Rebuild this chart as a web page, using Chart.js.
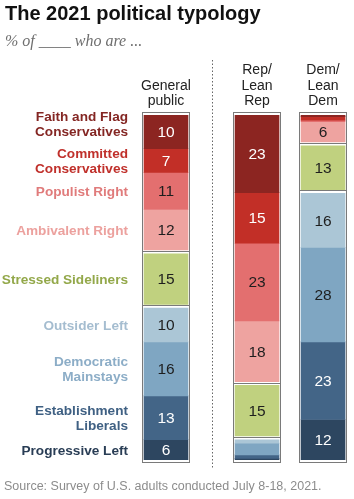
<!DOCTYPE html>
<html>
<head>
<meta charset="utf-8">
<script src="https://cdn.jsdelivr.net/npm/chart.js@4.4.1/dist/chart.umd.min.js"></script>
<style>
  html, body { margin: 0; padding: 0; background: #fff; }
  #wrap { position: relative; width: 354px; height: 499px; overflow: hidden; }
  #c { position: absolute; left: 0; top: 0; }
  .t { position: absolute; white-space: nowrap; }
  #title { left: 5px; top: 3px; font: bold 20px "Liberation Sans", Arial, sans-serif; line-height: 20px; color: #111; }
  #sub { left: 5px; top: 33px; font: italic 16px "Liberation Serif", serif; line-height: 16px; color: #6e6e6e; }
  #src { left: 4px; top: 479px; font: 12.5px "Liberation Sans", Arial, sans-serif; line-height: 14px; color: #8c8c8c; }
</style>
</head>
<body>
<div id="wrap">
  <canvas id="c" width="354" height="499"></canvas>
  <div class="t" id="title">The 2021 political typology</div>
  <div class="t" id="sub">% of ____ who are ...</div>
  <div class="t" id="src">Source: Survey of U.S. adults conducted July 8-18, 2021.</div>
</div>
<script>
// ---- data ----
const categories = ['General public', 'Rep/Lean Rep', 'Dem/Lean Dem'];
const headerLines = [['General', 'public'], ['Rep/', 'Lean', 'Rep'], ['Dem/', 'Lean', 'Dem']];
const types = ['Faith and Flag Conservatives', 'Committed Conservatives', 'Populist Right', 'Ambivalent Right',
  'Stressed Sideliners', 'Outsider Left', 'Democratic Mainstays', 'Establishment Liberals', 'Progressive Left'];
const typeLabelLines = [['Faith and Flag', 'Conservatives'], ['Committed', 'Conservatives'], ['Populist Right'],
  ['Ambivalent Right'], ['Stressed Sideliners'], ['Outsider Left'], ['Democratic', 'Mainstays'],
  ['Establishment', 'Liberals'], ['Progressive Left']];
const generalPublic = [10, 7, 11, 12, 15, 10, 16, 13, 6];
const repLeanRep    = [23, 15, 23, 18, 15, 1, 3.5, 1, 0.5];
const demLeanDem    = [0.5, 1, 0.5, 6, 13, 16, 28, 23, 12];
const typeGroup     = ['right', 'right', 'right', 'right', 'side', 'left', 'left', 'left', 'left'];

// ---- styles ----
const fillColors  = ['#8c2521', '#c22f27', '#e36f6f', '#eea3a0', '#c0d17f', '#abc6d6', '#7fa6c2', '#436587', '#2d4660'];
const labelColors = ['#842623', '#c0302b', '#e07b7b', '#eca19e', '#93a84a', '#a5bdd0', '#8cadc7', '#3f6083', '#293d55'];
const whiteValue  = [true, true, false, false, false, false, false, true, true];
const columnSlots = [0, 1.379, 2.379];   // layout: horizontal slot of each column
const GAP = 1.1;                          // layout: spacer between groups
const BAR = 44;

const columns = [generalPublic, repLeanRep, demLeanDem];

const datasets = [];
const typeDs = [];
const spacerDs = [];
types.forEach((name, i) => {
  typeDs.push(datasets.length);
  datasets.push({
    label: name,
    data: columns.map((col, c) => ({ x: columnSlots[c], y: col[i] })),
    backgroundColor: fillColors[i],
    borderWidth: 0,
    barThickness: BAR
  });
  if (i < types.length - 1 && typeGroup[i] !== typeGroup[i + 1]) {
    spacerDs.push(datasets.length);
    datasets.push({
      label: 'gap',
      data: columns.map((col, c) => ({ x: columnSlots[c], y: GAP })),
      backgroundColor: 'rgba(0,0,0,0)',
      borderWidth: 0,
      barThickness: BAR
    });
  }
});

const FONT = '"Liberation Sans", Arial, sans-serif';

const overlay = {
  id: 'overlay',
  afterDatasetsDraw(chart) {
    const ctx = chart.ctx;
    ctx.save();
    const metas = datasets.map((d, i) => chart.getDatasetMeta(i));
    // frames
    ctx.strokeStyle = '#7a7a7a';
    ctx.lineWidth = 1;
    for (let c = 0; c < categories.length; c++) {
      let top = Infinity, bottom = -Infinity, left = 0, right = 0;
      metas.forEach(m => {
        const el = m.data[c];
        top = Math.min(top, el.y, el.base);
        bottom = Math.max(bottom, el.y, el.base);
        left = el.x - el.width / 2; right = el.x + el.width / 2;
      });
      left = Math.round(left); right = Math.round(right);
      top = Math.round(top); bottom = Math.round(bottom);
      ctx.strokeRect(left - 1.5, top - 2.5, right - left + 3, bottom - top + 5);
      spacerDs.forEach(di => {
        const el = metas[di].data[c];
        const mid = Math.round((el.y + el.base) / 2) - 0.5;
        ctx.beginPath();
        ctx.moveTo(left - 1.5, mid);
        ctx.lineTo(right + 1.5, mid);
        ctx.stroke();
      });
    }
    // values in bars
    ctx.font = '15.5px ' + FONT;
    ctx.textAlign = 'center';
    ctx.textBaseline = 'middle';
    types.forEach((t, i) => {
      const m = metas[typeDs[i]];
      columns.forEach((col, c) => {
        const v = col[i];
        if (v < 5) return;
        const el = m.data[c];
        ctx.fillStyle = whiteValue[i] ? '#ffffff' : '#1e1e1e';
        ctx.fillText(String(v), el.x, (el.y + el.base) / 2 + 1);
      });
    });
    // left type labels (aligned to general public segments)
    ctx.font = 'bold 13.6px ' + FONT;
    ctx.textAlign = 'right';
    ctx.textBaseline = 'middle';
    const lh = 15.5;
    types.forEach((t, i) => {
      const el = metas[typeDs[i]].data[0];
      const lines = typeLabelLines[i];
      let cy = (el.y + el.base) / 2 + (i === 0 ? -8 : 0);
      const xr = el.x - el.width / 2 - 16;
      ctx.fillStyle = labelColors[i];
      lines.forEach((ln, k) => {
        ctx.fillText(ln, xr, cy + (k - (lines.length - 1) / 2) * lh + 1);
      });
    });
    // headers
    ctx.font = '14px ' + FONT;
    ctx.textAlign = 'center';
    ctx.textBaseline = 'alphabetic';
    ctx.fillStyle = '#222';
    const xs = chart.scales.x;
    headerLines.forEach((lines, c) => {
      const px = xs.getPixelForValue(columnSlots[c]);
      lines.forEach((ln, k) => {
        ctx.fillText(ln, px, 105 - (lines.length - 1 - k) * 15.5);
      });
    });
    // dotted separator
    const sx = Math.round((xs.getPixelForValue(columnSlots[0]) + xs.getPixelForValue(columnSlots[1])) / 2) + 0.5;
    ctx.strokeStyle = '#666';
    ctx.setLineDash([1.5, 2]);
    ctx.beginPath();
    ctx.moveTo(sx, 60);
    ctx.lineTo(sx, 468);
    ctx.stroke();
    ctx.restore();
  }
};

new Chart(document.getElementById('c'), {
  type: 'bar',
  data: { datasets },
  options: {
    responsive: false,
    animation: false,
    devicePixelRatio: 1,
    layout: { padding: { top: 115, bottom: 39, left: 132, right: 0 } },
    plugins: { legend: { display: false }, tooltip: { enabled: false }, title: { display: false } },
    scales: {
      x: { type: 'linear', display: false, stacked: true, offset: false, min: -0.515, max: 2.848 },
      y: { type: 'linear', display: false, stacked: true, reverse: true, min: 0, max: 100 + 2 * GAP }
    }
  },
  plugins: [overlay]
});
</script>
</body>
</html>
